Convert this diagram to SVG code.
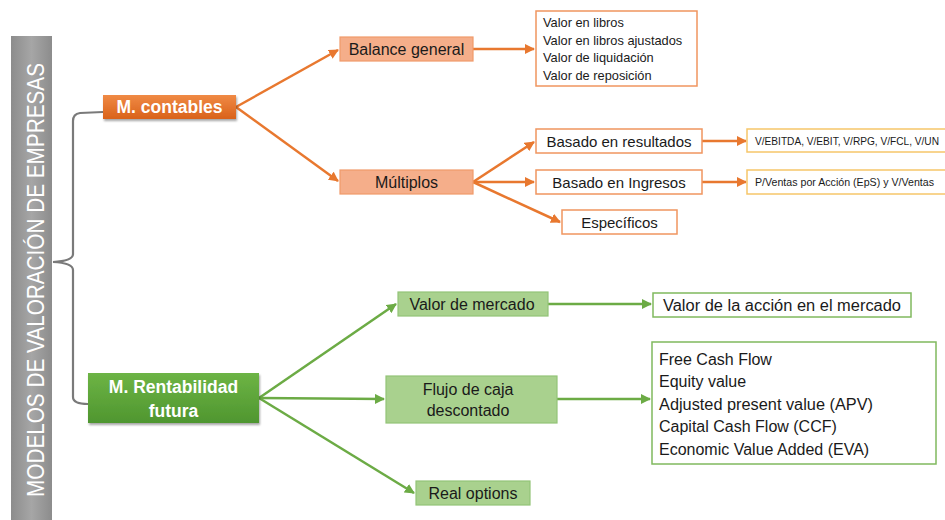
<svg xmlns="http://www.w3.org/2000/svg" width="945" height="520" viewBox="0 0 945 520">
<defs>
<linearGradient id="gBar" x1="0" x2="1" y1="0" y2="0"><stop offset="0" stop-color="#8c8c8c"/><stop offset="0.5" stop-color="#a6a6a6"/><stop offset="1" stop-color="#8c8c8c"/></linearGradient>
<linearGradient id="gOr" x1="0" x2="0" y1="0" y2="1"><stop offset="0" stop-color="#F08A45"/><stop offset="1" stop-color="#D9621A"/></linearGradient>
<linearGradient id="gGr" x1="0" x2="0" y1="0" y2="1"><stop offset="0" stop-color="#6DB445"/><stop offset="1" stop-color="#4F962F"/></linearGradient>
<filter id="sh" x="-10%" y="-20%" width="130%" height="160%"><feDropShadow dx="1" dy="2" stdDeviation="1.2" flood-color="#000" flood-opacity="0.35"/></filter>
<marker id="aO" viewBox="0 0 10 10" refX="9" refY="5" markerWidth="4" markerHeight="4" orient="auto"><path d="M0,0 L10,5 L0,10 z" fill="#E8782F"/></marker>
<marker id="aG" viewBox="0 0 10 10" refX="9" refY="5" markerWidth="4" markerHeight="4" orient="auto"><path d="M0,0 L10,5 L0,10 z" fill="#6CAB45"/></marker>
</defs>
<style>
text{font-family:"Liberation Sans",Arial,sans-serif;}
.co{fill:none;stroke:#E8782F;stroke-width:2.5;marker-end:url(#aO);}
.cg{fill:none;stroke:#6CAB45;stroke-width:2.5;marker-end:url(#aG);}
.br{fill:none;stroke:#7a7a7a;stroke-width:2.2;}
.lo{fill:#F5AE8A;stroke:#F09A6A;stroke-width:1.2;}
.wo{fill:#fff;stroke:#F0955F;stroke-width:1.5;}
.wy{fill:#fff;stroke:#F6C66A;stroke-width:1.5;}
.lg{fill:#A9D18E;stroke:#93C477;stroke-width:1.2;}
.wg{fill:#fff;stroke:#80B95E;stroke-width:1.5;}
.t15{font-size:15px;fill:#1a1a1a;}
.t16{font-size:16px;fill:#1a1a1a;}
.t12{font-size:12.8px;fill:#1a1a1a;}
.t11{font-size:10.5px;fill:#1a1a1a;}
.tw{font-size:17.5px;font-weight:bold;fill:#fff;}
.c{text-anchor:middle;}
</style>
<g id="title">
<rect x="11" y="36" width="41" height="490" fill="url(#gBar)"/>
<text class="c" transform="translate(43.5,280) rotate(-90)" font-size="23" fill="#fff" textLength="434" lengthAdjust="spacingAndGlyphs">MODELOS DE VALORACIÓN DE EMPRESAS</text>
</g>
<g id="connectors">
<path class="br" d="M103,112 L80,113 Q73,114 73,121 L73,254 Q73,261 53,262 Q73,263 73,270 L73,397 Q73,404 88,404"/>
<path class="co" d="M236,107 L338,50"/>
<path class="co" d="M236,107 L338,181"/>
<path class="co" d="M473,49 L534,49"/>
<path class="co" d="M473,182 L534,142"/>
<path class="co" d="M473,182 L534,182"/>
<path class="co" d="M473,182 L560,222"/>
<path class="co" d="M702,141 L746,141"/>
<path class="co" d="M702,182 L746,182"/>
<path class="cg" d="M259,398 L396,304"/>
<path class="cg" d="M259,398 L384,399"/>
<path class="cg" d="M259,398 L414,493"/>
<path class="cg" d="M548,304 L651,304"/>
<path class="cg" d="M557,399 L650,399"/>
</g>
<g id="m-contables">
<rect x="103" y="95" width="133" height="24" fill="url(#gOr)" filter="url(#sh)"/>
<text class="tw c" x="169.5" y="113">M. contables</text>
</g>
<g id="balance-general">
<rect class="lo" x="340" y="37" width="133" height="24"/>
<text class="t16 c" x="406.5" y="55">Balance general</text>
</g>
<g id="multiplos">
<rect class="lo" x="340" y="170" width="133" height="24"/>
<text class="t16 c" x="406.5" y="188">Múltiplos</text>
</g>
<g id="valores-libros">
<rect class="wo" x="536" y="11" width="161" height="75"/>
<text class="t12" x="543" y="27">Valor en libros</text>
<text class="t12" x="543" y="44.5">Valor en libros ajustados</text>
<text class="t12" x="543" y="62">Valor de liquidación</text>
<text class="t12" x="543" y="79.5">Valor de reposición</text>
</g>
<g id="basado-resultados">
<rect class="wo" x="536" y="129" width="166" height="24"/>
<text class="t15 c" x="619" y="146.5">Basado en resultados</text>
</g>
<g id="basado-ingresos">
<rect class="wo" x="536" y="170" width="166" height="24"/>
<text class="t15 c" x="619" y="187.5">Basado en Ingresos</text>
</g>
<g id="especificos">
<rect class="wo" x="562" y="210" width="115" height="24"/>
<text class="t15 c" x="619.5" y="227.5">Específicos</text>
</g>
<g id="ratios-resultados">
<rect class="wy" x="747" y="129" width="210" height="23"/>
<text class="t11" x="755" y="145" textLength="184" lengthAdjust="spacingAndGlyphs">V/EBITDA, V/EBIT, V/RPG, V/FCL, V/UN</text>
</g>
<g id="ratios-ingresos">
<rect class="wy" x="747" y="170" width="210" height="24"/>
<text class="t11" x="755" y="186" textLength="179" lengthAdjust="spacingAndGlyphs">P/Ventas por Acción (EpS) y V/Ventas</text>
</g>
<g id="m-rentabilidad">
<rect x="88" y="373" width="171" height="50" fill="url(#gGr)" filter="url(#sh)"/>
<text class="tw c" x="173.5" y="393">M. Rentabilidad</text>
<text class="tw c" x="173.5" y="416.5">futura</text>
</g>
<g id="valor-mercado">
<rect class="lg" x="398" y="292" width="150" height="24"/>
<text class="t16 c" x="472" y="309.5">Valor de mercado</text>
</g>
<g id="flujo-caja">
<rect class="lg" x="386" y="376" width="171" height="47"/>
<text class="t16 c" x="468" y="394.5">Flujo de caja</text>
<text class="t16 c" x="468" y="416">descontado</text>
</g>
<g id="real-options">
<rect class="lg" x="416" y="481" width="114" height="24"/>
<text class="t16 c" x="473" y="498.5">Real options</text>
</g>
<g id="valor-accion">
<rect class="wg" x="653" y="293" width="258" height="24"/>
<text class="t16" x="663" y="310.5" textLength="238" lengthAdjust="spacingAndGlyphs">Valor de la acción en el mercado</text>
</g>
<g id="metodos-flujo">
<rect class="wg" x="652" y="342" width="284" height="122"/>
<text class="t16" x="659" y="364.5">Free Cash Flow</text>
<text class="t16" x="659" y="387">Equity value</text>
<text class="t16" x="659" y="409.5" textLength="214" lengthAdjust="spacingAndGlyphs">Adjusted present value (APV)</text>
<text class="t16" x="659" y="432">Capital Cash Flow (CCF)</text>
<text class="t16" x="659" y="454.5">Economic Value Added (EVA)</text>
</g>
</svg>
